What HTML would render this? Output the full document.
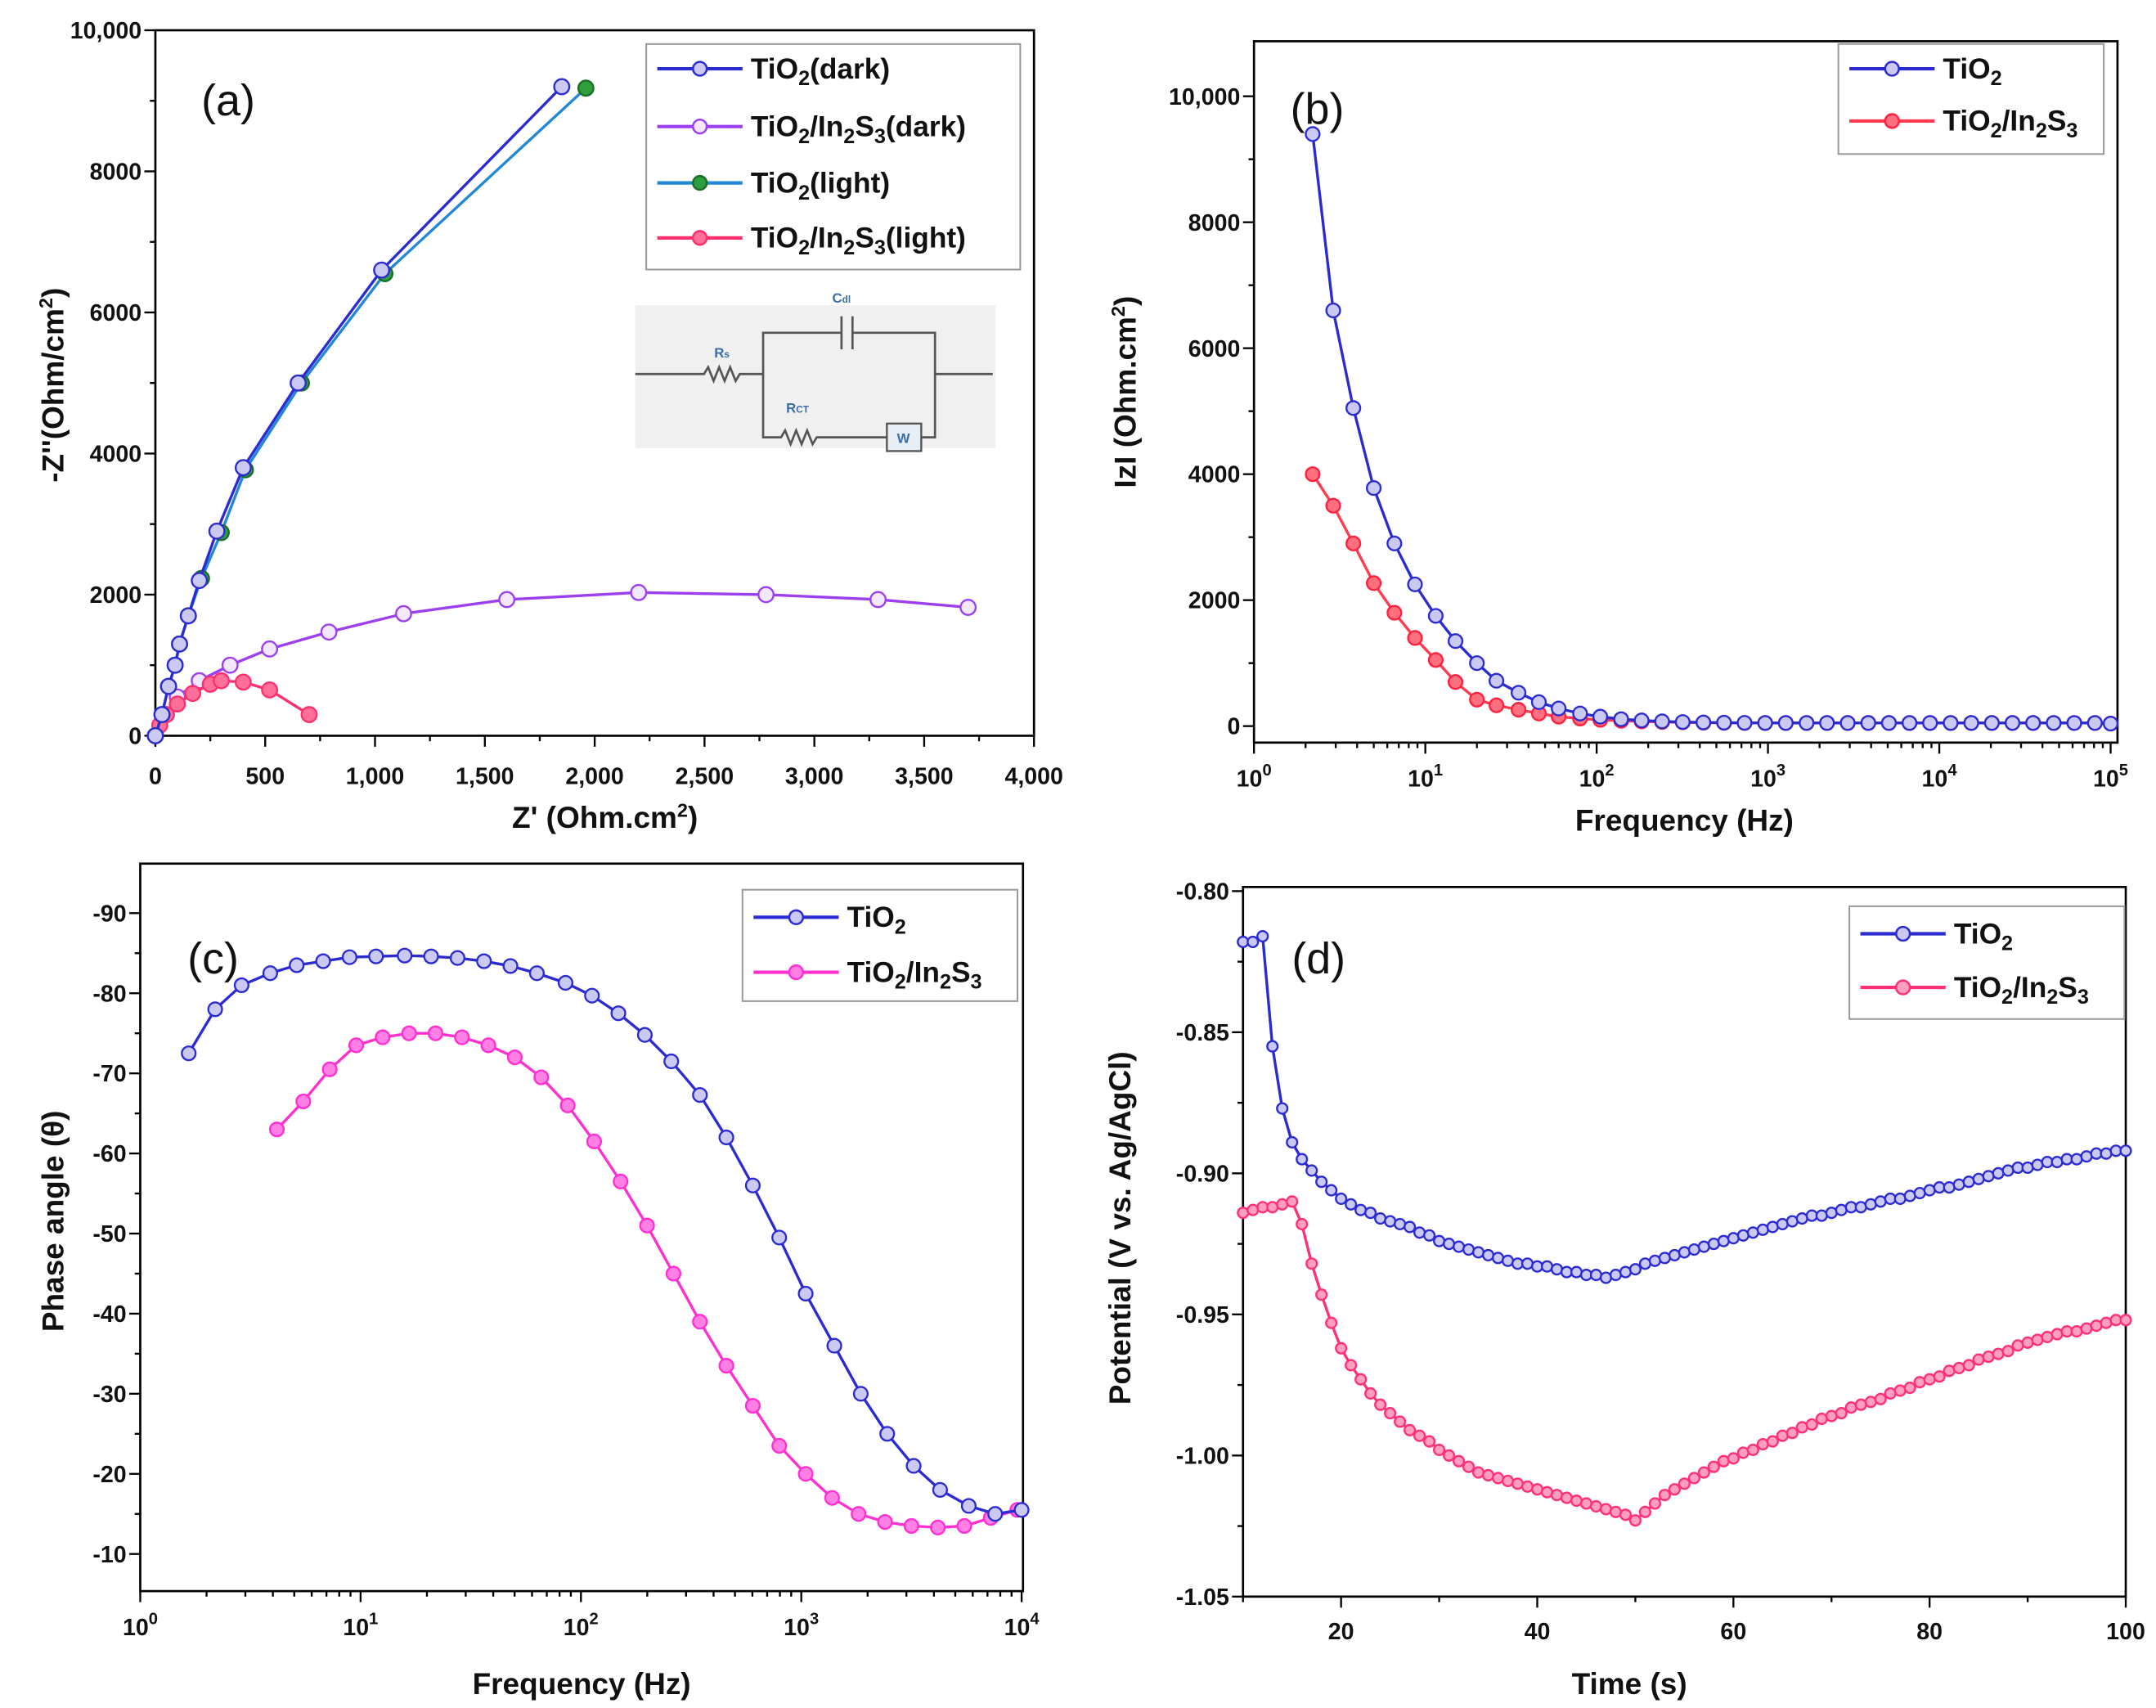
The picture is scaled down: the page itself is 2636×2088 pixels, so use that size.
<!DOCTYPE html>
<html><head><meta charset="utf-8"><style>
html,body{margin:0;padding:0;background:#fff;}
svg{display:block;font-family:"Liberation Sans",sans-serif;font-weight:bold;}
</style></head><body>
<svg id="fig" width="2636" height="2088" viewBox="0 0 1568 1242" preserveAspectRatio="none" xmlns="http://www.w3.org/2000/svg"></svg>
<script>
// ---------- Panel (a) Nyquist data ----------
const aTiDarkX=[0,30,60,90,110,150,200,280,400,650,1030,1850];
const aTiDarkY=[0,300,700,1000,1300,1700,2200,2900,3800,5000,6600,9200];
const aTiLightX=[0,30,60,90,110,150,210,300,410,665,1045,1960];
const aTiLightY=[0,300,700,1000,1300,1700,2230,2880,3770,5000,6550,9180];
const aInDarkX=[0,50,100,200,340,520,790,1130,1600,2200,2780,3290,3700];
const aInDarkY=[0,300,550,780,1000,1230,1470,1730,1930,2030,2000,1930,1820];
const aInLightX=[0,20,50,100,170,250,300,400,520,700];
const aInLightY=[0,150,300,450,600,730,780,760,650,300];
const aXTicks=["0","500","1,000","1,500","2,000","2,500","3,000","3,500","4,000"];
const aYTicks=["0","2000","4000","6000","8000","10,000"];
// ---------- Panel (b) |Z| ----------
const bFreq=[2.2,2.9,3.8,5.0,6.6,8.7,11.5,15,20,26,35,46,60,80,105,139,183,241,318,420,554,730,963,1270,1680,2210,2920,3850,5080,6700,8830,11650,15370,20270,26740,35270,46520,61360,80940,100000];
const bTi=[9400,6600,5050,3780,2900,2250,1750,1350,1000,720,530,380,280,200,150,110,90,75,65,58,55,52,50,50,50,50,50,50,50,50,50,50,50,50,50,50,50,50,50,40];
const bIn=[4000,3500,2900,2270,1800,1400,1050,700,420,330,260,200,150,120,100,85,75,65,60,55,52,50,50,50,50,50,50,50,50,50,50,50,50,50,50,50,50,50,50,40];
const bYTicks=["0","2000","4000","6000","8000","10,000"];
// ---------- Panel (c) phase ----------
const cTiLogF=[0.22,0.34,0.46,0.59,0.71,0.83,0.95,1.07,1.2,1.32,1.44,1.56,1.68,1.8,1.93,2.05,2.17,2.29,2.41,2.54,2.66,2.78,2.9,3.02,3.15,3.27,3.39,3.51,3.63,3.76,3.88,4.0];
const cTi=[72.5,78,81,82.5,83.5,84,84.5,84.6,84.7,84.6,84.4,84,83.4,82.5,81.3,79.7,77.5,74.8,71.5,67.3,62,56,49.5,42.5,36,30,25,21,18,16,15,15.5];
const cInLogF=[0.62,0.74,0.86,0.98,1.1,1.22,1.34,1.46,1.58,1.7,1.82,1.94,2.06,2.18,2.3,2.42,2.54,2.66,2.78,2.9,3.02,3.14,3.26,3.38,3.5,3.62,3.74,3.86,3.98];
const cIn=[63,66.5,70.5,73.5,74.5,75,75,74.5,73.5,72,69.5,66,61.5,56.5,51,45,39,33.5,28.5,23.5,20,17,15,14,13.5,13.3,13.5,14.5,15.5];
const cYTicks=["-10","-20","-30","-40","-50","-60","-70","-80","-90"];
// ---------- Panel (d) potential ----------
const dTime=[10,11,12,13,14,15,16,17,18,19,20,21,22,23,24,25,26,27,28,29,30,31,32,33,34,35,36,37,38,39,40,41,42,43,44,45,46,47,48,49,50,51,52,53,54,55,56,57,58,59,60,61,62,63,64,65,66,67,68,69,70,71,72,73,74,75,76,77,78,79,80,81,82,83,84,85,86,87,88,89,90,91,92,93,94,95,96,97,98,99,100];
const dTi=[-0.818,-0.818,-0.816,-0.855,-0.877,-0.889,-0.895,-0.899,-0.903,-0.906,-0.909,-0.911,-0.913,-0.914,-0.916,-0.917,-0.918,-0.919,-0.921,-0.922,-0.924,-0.925,-0.926,-0.927,-0.928,-0.929,-0.930,-0.931,-0.932,-0.932,-0.933,-0.933,-0.934,-0.935,-0.935,-0.936,-0.936,-0.937,-0.936,-0.935,-0.934,-0.932,-0.931,-0.930,-0.929,-0.928,-0.927,-0.926,-0.925,-0.924,-0.923,-0.922,-0.921,-0.920,-0.919,-0.918,-0.917,-0.916,-0.915,-0.915,-0.914,-0.913,-0.912,-0.912,-0.911,-0.910,-0.909,-0.909,-0.908,-0.907,-0.906,-0.905,-0.905,-0.904,-0.903,-0.902,-0.901,-0.900,-0.899,-0.898,-0.898,-0.897,-0.896,-0.896,-0.895,-0.895,-0.894,-0.893,-0.893,-0.892,-0.892];
const dIn=[-0.914,-0.913,-0.912,-0.912,-0.911,-0.910,-0.918,-0.932,-0.943,-0.953,-0.962,-0.968,-0.973,-0.978,-0.982,-0.985,-0.988,-0.991,-0.993,-0.995,-0.998,-1.000,-1.002,-1.004,-1.006,-1.007,-1.008,-1.009,-1.010,-1.011,-1.012,-1.013,-1.014,-1.015,-1.016,-1.017,-1.018,-1.019,-1.020,-1.021,-1.023,-1.020,-1.017,-1.014,-1.012,-1.010,-1.008,-1.006,-1.004,-1.002,-1.001,-0.999,-0.998,-0.996,-0.995,-0.993,-0.992,-0.990,-0.989,-0.987,-0.986,-0.985,-0.983,-0.982,-0.981,-0.980,-0.978,-0.977,-0.976,-0.974,-0.973,-0.972,-0.970,-0.969,-0.968,-0.966,-0.965,-0.964,-0.963,-0.961,-0.960,-0.959,-0.958,-0.957,-0.956,-0.956,-0.955,-0.954,-0.953,-0.952,-0.952];
const dXTicks=["20","40","60","80","100"];
const dYTicks=["-0.80","-0.85","-0.90","-0.95","-1.00","-1.05"];

const NS="http://www.w3.org/2000/svg";
const svg=document.getElementById('fig');
function el(tag,attrs,parent){const e=document.createElementNS(NS,tag);for(const k in attrs)e.setAttribute(k,attrs[k]);(parent||svg).appendChild(e);return e;}
function lin(d0,d1,p0,p1){return v=>p0+(v-d0)*(p1-p0)/(d1-d0);}
function lg(d0,d1,p0,p1){return v=>p0+(Math.log10(v)-d0)*(p1-p0)/(d1-d0);}

function frame(g,L,T,R,B){
  const r=el('rect',{x:L,y:T,width:R-L,height:B-T,fill:'none',stroke:'#000','stroke-width':1.6},g);
  
  
}
function text(g,x,y,s,size,anchor,name){
  const t=el('text',{x:x,y:y,'font-size':size,'text-anchor':anchor||'middle',fill:'#111'},g);
  t.innerHTML=s;
  
  
  return t;
}
function tickX(g,x,B,len){el('line',{x1:x,x2:x,y1:B,y2:B+len,stroke:'#000','stroke-width':1.4},g);}
function tickY(g,y,L,len){el('line',{x1:L,x2:L-len,y1:y,y2:y,stroke:'#000','stroke-width':1.4},g);}
function series(g,xs,ys,sx,sy,color,mfill,mstroke,r,name,sw){
  const sg=el('g',{},g);
  
  
  let d='';xs.forEach((x,i)=>{d+=(i?'L':'M')+sx(x).toFixed(2)+','+sy(ys[i]).toFixed(2);});
  el('path',{d:d,fill:'none',stroke:color,'stroke-width':sw||2},sg);
  xs.forEach((x,i)=>{
    const c=el('circle',{cx:sx(x),cy:sy(ys[i]),r:r,fill:mfill,stroke:mstroke,'stroke-width':1.4},sg);
    
    
  });
}
function lab(parts){
  let s='',down=false;
  parts.forEach((p,i)=>{
    if(i%2===1){s+='<tspan dy="5" font-size="15">'+p+'</tspan>';down=true;}
    else{s+='<tspan'+(down?' dy="-5"':'')+'>'+p+'</tspan>';down=false;}
  });
  return s;
}
function legend(g,x,y,w,h,entries,fs){
  const lgG=el('g',{},g);
  
  
  el('rect',{x:x,y:y,width:w,height:h,fill:'#fff',stroke:'#999','stroke-width':1.2},lgG);
  entries.forEach(e=>{
    const eg=el('g',{},lgG);
    
    
    el('line',{x1:x+8,x2:x+70,y1:e.y,y2:e.y,stroke:e.color,'stroke-width':2.5},eg);
    el('circle',{cx:x+39,cy:e.y,r:5,fill:e.mf,stroke:e.ms,'stroke-width':1.5},eg);
    const t=el('text',{x:x+76,y:e.y+7,'font-size':fs,fill:'#111'},eg);
    t.innerHTML=e.label;
  });
}
const TiO2=lab(['TiO','2','']);
const TiIn=lab(['TiO','2','/In','2','S','3','']);
function supExp(g,x,y,e){
  const t=el('text',{x:x,y:y,'font-size':17,'text-anchor':'middle',fill:'#111'},g);
  t.innerHTML='10<tspan dy="-8" font-size="12">'+e+'</tspan>';
  
  
}
function logMinor(g,d0,d1,sx,B){
  for(let d=d0;d<d1;d++)for(let m=2;m<10;m++){tickX(g,sx(m*Math.pow(10,d)),B,4);}
}

// ===== Panel A =====
(function(){
  const g=el('g',{});
  const L=113,R=752,T=22,B=535;
  const sx=lin(0,4000,L,R), sy=lin(0,10000,B,T);
  const ci=el('g',{},g);
  el('rect',{x:462,y:222,width:262,height:104,fill:'#f0f0f0'},ci);
  el('path',{d:'M462,272 H512 l3,-5 l4,10 l4,-10 l4,10 l4,-10 l4,10 l3,-5 H555 V242 H612 M620,242 H680 V272 H722 M680,272 V318 H670 M555,272 V318 H568 l3,-5 l4,10 l4,-10 l4,10 l4,-10 l4,10 l3,-5 H645',fill:'none',stroke:'#555','stroke-width':1.6},ci);
  el('path',{d:'M612,230 V254 M620,230 V254',stroke:'#555','stroke-width':1.6},ci);
  el('rect',{x:645,y:308,width:25,height:20,fill:'#e8eef5',stroke:'#555','stroke-width':1.4},ci);
  text(ci,657,322,'W',10,'middle','warburg-label').setAttribute('fill','#3a6ea5');
  text(ci,525,260,'R<tspan font-size="7">s</tspan>',10,'middle','rs-label').setAttribute('fill','#3a6ea5');
  text(ci,580,300,'R<tspan font-size="7">CT</tspan>',10,'middle','rct-label').setAttribute('fill','#3a6ea5');
  text(ci,612,220,'C<tspan font-size="7">dl</tspan>',10,'middle','cdl-label').setAttribute('fill','#3a6ea5');
  frame(g,L,T,R,B);
  aXTicks.forEach((s,i)=>{const x=sx(i*500);tickX(g,x,B,8);text(g,x,570,s,17,'middle','x-tick-label');});
  for(let i=0;i<8;i++)tickX(g,sx(i*500+250),B,4);
  aYTicks.forEach((s,i)=>{const y=sy(i*2000);tickY(g,y,L,8);text(g,L-10,y+6,s,17,'end','y-tick-label');});
  for(let i=0;i<5;i++)tickY(g,sy(i*2000+1000),L,4);
  series(g,aInDarkX,aInDarkY,sx,sy,'#9b3ff0','#f4e8ff','#9b3ff0',5.5,'series-tio2-in2s3-dark');
  series(g,aInLightX,aInLightY,sx,sy,'#ff2f6e','#ff6f98','#ff2f6e',5.5,'series-tio2-in2s3-light');
  series(g,aTiLightX,aTiLightY,sx,sy,'#2288d6','#2e9e3e','#1a6e2a',5.5,'series-tio2-light');
  series(g,aTiDarkX,aTiDarkY,sx,sy,'#2b2bd1','#c9c9f2','#2b2bd1',5.5,'series-tio2-dark');
  text(g,166,84,'(a)',32,'middle','panel-label-a').setAttribute('font-weight','normal');
  const yt=text(g,0,0,'-Z\'\'(Ohm/cm<tspan dy="-8" font-size="14">2</tspan><tspan dy="8">)</tspan>',22,'middle','y-axis-title');
  yt.setAttribute('transform','translate(46,280) rotate(-90)');
  text(g,440,602,'Z\' (Ohm.cm<tspan dy="-8" font-size="14">2</tspan><tspan dy="8">)</tspan>',22,'middle','x-axis-title');
  legend(g,470,32,272,164,[
    {y:50,color:'#2b2bd1',mf:'#c9c9f2',ms:'#2b2bd1',label:lab(['TiO','2','(dark)'])},
    {y:92,color:'#9b3ff0',mf:'#f4e8ff',ms:'#9b3ff0',label:lab(['TiO','2','/In','2','S','3','(dark)'])},
    {y:133,color:'#2288d6',mf:'#2e9e3e',ms:'#1a6e2a',label:lab(['TiO','2','(light)'])},
    {y:173,color:'#ff2f6e',mf:'#ff6f98',ms:'#ff2f6e',label:lab(['TiO','2','/In','2','S','3','(light)'])}],21);
})();

// ===== Panel B =====
(function(){
  const g=el('g',{});
  const L=912,R=1540,T=30,B=540;
  const sx=lg(0,5,L,1535), sy=lin(0,10000,528,70);
  frame(g,L,T,R,B);
  for(let e=0;e<=5;e++){const x=sx(Math.pow(10,e));tickX(g,x,B,8);supExp(g,x,572,e);}
  logMinor(g,0,5,sx,B);
  bYTicks.forEach((s,i)=>{const y=sy(i*2000);tickY(g,y,L,8);text(g,L-10,y+6,s,17,'end','y-tick-label');});
  for(let i=0;i<5;i++)tickY(g,sy(i*2000+1000),L,4);
  series(g,bFreq,bIn,sx,sy,'#ff3b50','#ff6f7e','#ff2040',5,'series-tio2-in2s3');
  series(g,bFreq,bTi,sx,sy,'#2b2bd1','#c9c9f2','#2b2bd1',5,'series-tio2');
  text(g,958,90,'(b)',32,'middle','panel-label-b').setAttribute('font-weight','normal');
  const yt=text(g,0,0,'IzI (Ohm.cm<tspan dy="-8" font-size="14">2</tspan><tspan dy="8">)</tspan>',22,'middle','y-axis-title');
  yt.setAttribute('transform','translate(826,285) rotate(-90)');
  text(g,1225,604,'Frequency (Hz)',22,'middle','x-axis-title');
  legend(g,1337,32,193,80,[
    {y:50,color:'#2b2bd1',mf:'#c9c9f2',ms:'#2b2bd1',label:TiO2},
    {y:88,color:'#ff3b50',mf:'#ff6f7e',ms:'#ff2040',label:TiIn}],21);
})();

// ===== Panel C =====
(function(){
  const g=el('g',{});
  const L=102,R=744,T=628,B=1157;
  const sxl=lin(0,4,L,743), sxf=lg(0,4,L,743), sy=lin(10,90,1130,664);
  frame(g,L,T,R,B);
  for(let e=0;e<=4;e++){const x=sxl(e);tickX(g,x,B,8);supExp(g,x,1189,e);}
  logMinor(g,0,4,sxf,B);
  cYTicks.forEach((s,i)=>{const y=sy(10+i*10);tickY(g,y,L,8);text(g,L-10,y+6,s,17,'end','y-tick-label');});
  for(let i=0;i<8;i++)tickY(g,sy(15+i*10),L,4);
  series(g,cInLogF,cIn,sxl,sy,'#ff2fd0','#ff7fe4','#ff2fd0',5,'series-tio2-in2s3');
  series(g,cTiLogF,cTi,sxl,sy,'#2b2bd1','#c9c9f2','#2b2bd1',5,'series-tio2');
  text(g,155,708,'(c)',32,'middle','panel-label-c').setAttribute('font-weight','normal');
  const yt=text(g,0,0,'Phase angle (θ)',22,'middle','y-axis-title');
  yt.setAttribute('transform','translate(46,888) rotate(-90)');
  text(g,423,1232,'Frequency (Hz)',22,'middle','x-axis-title');
  legend(g,540,647,200,81,[
    {y:667,color:'#2b2bd1',mf:'#c9c9f2',ms:'#2b2bd1',label:TiO2},
    {y:707,color:'#ff2fd0',mf:'#ff7fe4',ms:'#ff2fd0',label:TiIn}],21);
})();

// ===== Panel D =====
(function(){
  const g=el('g',{});
  const L=904,R=1546,T=645,B=1161;
  const sx=lin(10,100,L,R), sy=lin(-0.80,-1.05,648,1161);
  frame(g,L,T,R,B);
  dXTicks.forEach((s,i)=>{const x=sx(20+i*20);tickX(g,x,B,8);text(g,x,1192,s,17,'middle','x-tick-label');});
  for(let i=0;i<5;i++)tickX(g,sx(10+i*20),B,4);
  dYTicks.forEach((s,i)=>{const y=sy(-0.80-i*0.05);tickY(g,y,L,8);text(g,L-10,y+6,s,17,'end','y-tick-label');});
  for(let i=0;i<5;i++)tickY(g,sy(-0.825-i*0.05),L,4);
  series(g,dTime,dIn,sx,sy,'#ff2f7a','#ff9fc0','#ff2f7a',3.8,'series-tio2-in2s3',2);
  series(g,dTime,dTi,sx,sy,'#2b2bd1','#c9c9f2','#2b2bd1',3.8,'series-tio2',2);
  text(g,959,708,'(d)',32,'middle','panel-label-d').setAttribute('font-weight','normal');
  const yt=text(g,0,0,'Potential (V vs. Ag/AgCl)',22,'middle','y-axis-title');
  yt.setAttribute('transform','translate(822,893) rotate(-90)');
  text(g,1185,1232,'Time (s)',22,'middle','x-axis-title');
  legend(g,1345,659,200,82,[
    {y:679,color:'#2b2bd1',mf:'#c9c9f2',ms:'#2b2bd1',label:TiO2},
    {y:718,color:'#ff2f7a',mf:'#ff9fc0',ms:'#ff2f7a',label:TiIn}],21);
})();
</script>
</body></html>
